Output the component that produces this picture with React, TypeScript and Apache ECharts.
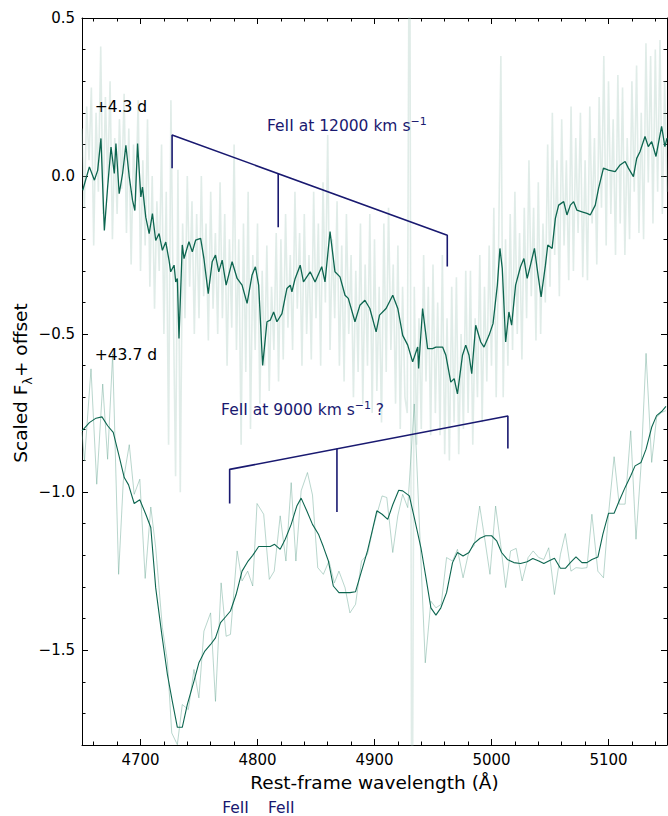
import React, { useEffect, useRef } from 'react';
import * as echarts from 'echarts';

const FONT = 'DejaVu Sans';
const NAVY = '#191970';
const DARK = '#0d6650';

// x / y ticks
const xMajor = [4700, 4800, 4900, 5000, 5100];
const xMinor = [4660, 4680, 4720, 4740, 4760, 4780, 4820, 4840, 4860, 4880, 4920, 4940, 4960, 4980, 5020, 5040, 5060, 5080, 5120, 5140];
const yMajor = [-1.5, -1.0, -0.5, 0.0, 0.5];
const yMinor = [-1.7, -1.6, -1.4, -1.3, -1.2, -1.1, -0.9, -0.8, -0.7, -0.6, -0.4, -0.3, -0.2, -0.1, 0.1, 0.2, 0.3, 0.4];

// +4.3 d raw spectrum: wavelength grid start/step, fluxes
const s1RawStart = 4650;
const s1RawStep = 2;
const s1RawFlux = [
  0.15, -0.10, 0.22, 0.05, 0.28,
  -0.22, 0.20, -0.05, 0.41, -0.12,
  0.25, -0.02, 0.30, -0.20, 0.12,
  -0.12, 0.18, -0.04, 0.26, -0.18,
  0.15, -0.28, 0.10, -0.08, 0.24,
  -0.30, 0.05, -0.22, 0.18, -0.35,
  0.00, -0.42, -0.08, -0.30, 0.10,
  -0.50, -0.05, -0.85, 0.24, -0.40,
  -0.95, 0.02, -1.00, -0.15, -0.45,
  0.00, -0.35, -0.08, -0.50, -0.12,
  -0.45, 0.00, -0.38, -0.15, -0.52,
  -0.05, -0.42, -0.18, -0.50, -0.02,
  -0.45, -0.12, -0.60, -0.20, -0.48,
  0.10, -0.55, -0.20, -0.85, -0.15,
  -0.62, -0.05, -0.80, -0.25, -0.55,
  -0.15, -0.72, -0.30, -0.60, -0.22,
  -0.68, -0.35, -0.55, -0.18, -0.65,
  -0.20, -0.58, -0.12, -0.48, -0.25,
  -0.55, -0.05, -0.42, -0.18, -0.60,
  -0.12, -0.50, -0.25, -0.58, -0.05,
  -0.45, -0.15, -0.60, -0.02, -0.40,
  0.13, -0.55, -0.20, -0.45, -0.08,
  -0.60, -0.22, -0.65, -0.12, -0.50,
  -0.25, -0.70, -0.30, -0.62, -0.15,
  -0.72, -0.28, -0.60, -0.12, -0.75,
  -0.20, -0.68, -0.35, -0.78, -0.15,
  -0.62, -0.10, -0.55, -0.28, -0.72,
  -0.22, -0.80, -0.35, -0.70, -0.75,
  1.20, -2.50, -0.35, -0.85, -0.45,
  -0.80, -0.25, -0.65, -0.35, -0.82,
  -0.28, -0.75, -0.40, -0.82, -0.25,
  -0.88, -0.45, -0.90, -0.35, -0.78,
  -0.32, -0.88, -0.50, -0.80, -0.30,
  -0.75, -0.30, -0.85, -0.45, -0.70,
  -0.25, -0.78, -0.35, -0.65, -0.22,
  -0.60, -0.10, -0.70, -0.25, 0.38,
  -0.70, -0.20, -0.60, -0.12, -0.55,
  -0.05, -0.50, -0.18, -0.58, -0.10,
  -0.45, 0.05, -0.38, -0.10, -0.52,
  -0.02, -0.50, -0.15, -0.40, 0.10,
  -0.35, 0.20, -0.25, 0.05, -0.38,
  0.18, -0.22, 0.05, -0.33, 0.22,
  -0.30, 0.12, -0.18, 0.20, -0.32,
  0.05, -0.33, 0.22, -0.15, 0.12,
  -0.28, 0.25, -0.10, 0.38, -0.22,
  0.30, -0.12, 0.18, -0.25, 0.32,
  -0.15, 0.28, -0.25, 0.12, -0.20,
  0.30, -0.05, 0.35, -0.18, 0.20,
  -0.20, 0.42, -0.02, 0.38, -0.15,
  0.40, -0.05, 0.43, -0.12, 0.30,
  -0.05,
];

// +4.3 d smoothed spectrum
const s1SmoothWave = [4650.6, 4656.3, 4660.6, 4663.4, 4666.2, 4669.1, 4671.9, 4674.8, 4677.6, 4679.0,
  4681.8, 4684.7, 4687.5, 4690.4, 4693.2, 4695.2, 4697.5, 4700.3, 4701.7, 4704.5,
  4707.4, 4710.2, 4713.0, 4715.9, 4718.7, 4721.6, 4724.4, 4725.8, 4728.7, 4730.1,
  4731.5, 4732.9, 4735.7, 4737.2, 4741.4, 4744.3, 4747.1, 4751.4, 4754.2, 4757.9,
  4761.3, 4764.1, 4766.9, 4769.8, 4773.2, 4778.3, 4782.6, 4786.8, 4791.1, 4795.3,
  4798.2, 4801.0, 4804.4, 4808.1, 4810.9, 4813.8, 4816.6, 4820.9, 4825.1, 4828.0,
  4829.4, 4832.2, 4836.5, 4839.3, 4845.0, 4849.2, 4854.9, 4857.7, 4862.0, 4866.2,
  4870.5, 4874.8, 4877.6, 4883.3, 4887.5, 4891.8, 4896.0, 4901.4, 4904.3, 4909.9,
  4915.6, 4919.9, 4924.1, 4928.4, 4932.6, 4936.9, 4937.7, 4941.1, 4945.4, 4949.6,
  4952.5, 4958.2, 4961.0, 4965.2, 4968.1, 4970.9, 4975.2, 4978.0, 4980.8, 4983.1,
  4986.5, 4990.8, 4993.6, 4997.9, 5001.3, 5005.0, 5007.2, 5009.2, 5012.1, 5014.9,
  5017.2, 5020.6, 5024.8, 5027.7, 5030.5, 5031.9, 5036.7, 5039.0, 5042.4, 5046.1,
  5048.1, 5051.8, 5054.6, 5057.4, 5061.7, 5064.5, 5067.4, 5070.2, 5073.0, 5077.3,
  5081.6, 5084.4, 5088.7, 5091.5, 5095.7, 5100.0, 5105.7, 5109.9, 5114.2, 5117.0,
  5121.3, 5124.1, 5126.9, 5131.2, 5134.0, 5136.9, 5140.6, 5145.4, 5148.2, 5150];
const s1SmoothFlux = [-0.045, 0.029, -0.013, 0.018, 0.119, -0.172, -0.035, 0.092, 0.008, 0.103,
  -0.056, 0.008, 0.097, -0.003, -0.077, -0.109, 0.103, -0.066, -0.035, -0.130,
  -0.182, -0.119, -0.204, -0.182, -0.235, -0.209, -0.267, -0.303, -0.282, -0.335,
  -0.324, -0.514, -0.218, -0.261, -0.208, -0.240, -0.203, -0.197, -0.261, -0.372,
  -0.271, -0.250, -0.303, -0.266, -0.345, -0.271, -0.324, -0.345, -0.403, -0.314,
  -0.287, -0.345, -0.599, -0.461, -0.456, -0.430, -0.461, -0.435, -0.356, -0.345,
  -0.366, -0.324, -0.282, -0.335, -0.303, -0.335, -0.287, -0.335, -0.176, -0.303,
  -0.319, -0.377, -0.387, -0.461, -0.409, -0.393, -0.419, -0.493, -0.440, -0.419,
  -0.377, -0.419, -0.504, -0.535, -0.588, -0.541, -0.609, -0.419, -0.546, -0.546,
  -0.541, -0.541, -0.567, -0.652, -0.641, -0.689, -0.567, -0.535, -0.567, -0.625,
  -0.472, -0.525, -0.541, -0.504, -0.467, -0.345, -0.229, -0.292, -0.525, -0.430,
  -0.472, -0.345, -0.287, -0.261, -0.324, -0.303, -0.229, -0.292, -0.382, -0.282,
  -0.218, -0.229, -0.134, -0.092, -0.081, -0.123, -0.092, -0.081, -0.108, -0.113,
  -0.118, -0.123, -0.092, -0.039, 0.025, 0.019, 0.014, 0.035, 0.046, 0.025,
  -0.002, 0.056, 0.077, 0.125, 0.093, 0.109, 0.062, 0.157, 0.093, 0.12];

// +43.7 d raw spectrum [wavelength, flux]
const s2Raw = [
  [4650, -0.81], [4652.1, -0.901], [4657.7, -0.610], [4662.6, -0.975], [4667.7, -0.658],
  [4671.9, -0.896], [4676.2, -0.563], [4681.3, -1.260], [4685.3, -0.964], [4690.4, -0.850],
  [4694.6, -1.007], [4699.4, -0.959], [4704.0, -1.273], [4708.8, -1.047], [4713.0, -1.176],
  [4718.7, -1.429], [4723.0, -1.535], [4726.7, -1.762], [4731.5, -1.799], [4735.7, -1.672],
  [4740.9, -1.688], [4745.7, -1.561], [4749.9, -1.651], [4754.2, -1.440], [4759.9, -1.382],
  [4764.1, -1.662], [4768.9, -1.287], [4773.2, -1.456], [4776.9, -1.450], [4782.6, -1.186],
  [4786.8, -1.281], [4791.6, -1.250], [4795.9, -1.297], [4799.6, -1.036], [4805.3, -1.070],
  [4810.1, -1.276], [4814.3, -1.250], [4819.4, -1.075], [4824.3, -1.218], [4828.8, -0.970],
  [4832.8, -1.218], [4837.3, -0.996], [4842.7, -0.938], [4847.0, -1.009], [4851.5, -1.239],
  [4856.3, -1.260], [4861.1, -1.218], [4865.7, -1.287], [4869.6, -1.250], [4874.8, -1.302],
  [4879.0, -1.382], [4883.8, -1.355], [4888.9, -1.218], [4894.0, -1.197], [4898.9, -1.112],
  [4902.0, -1.070], [4906.5, -1.012], [4910.5, -1.017], [4915.6, -1.191], [4919.9, -1.075],
  [4924.1, -1.007], [4928.4, -1.049], [4934.0, -0.721], [4943.4, -1.540], [4948.2, -1.345],
  [4952.5, -1.366], [4957.0, -1.355], [4961.6, -1.207], [4966.7, -1.218], [4970.9, -1.181],
  [4975.7, -1.271], [4980.8, -1.186], [4985.1, -1.170], [4989.9, -1.044], [4994.5, -1.155],
  [4998.7, -1.260], [5003.5, -1.044], [5007.8, -1.165], [5012.1, -1.302], [5016.3, -1.186],
  [5021.1, -1.178], [5026.2, -1.281], [5031.3, -1.207], [5035.6, -1.186], [5040.4, -1.207],
  [5044.7, -1.213], [5048.9, -1.176], [5053.8, -1.324], [5058.9, -1.197], [5063.1, -1.131],
  [5067.9, -1.250], [5072.2, -1.239], [5077.3, -1.241], [5081.6, -1.239], [5085.8, -1.070],
  [5090.9, -1.250], [5095.7, -1.271], [5100.0, -1.070], [5104.8, -0.888], [5109.1, -1.038],
  [5114.2, -1.038], [5119.0, -0.806], [5123.5, -1.149], [5127.8, -0.917], [5132.1, -0.561],
  [5136.9, -0.906], [5141.1, -0.764], [5145.4, -0.748], [5149.1, -0.742],
];

// +43.7 d smoothed spectrum [wavelength, flux]
const s2Smooth = [
  [4650, -0.806], [4656.3, -0.780], [4662.0, -0.766], [4667.1, -0.762], [4671.9, -0.790],
  [4676.7, -0.811], [4681.3, -0.880], [4686.1, -0.954], [4689.8, -0.977], [4694.6, -1.036],
  [4699.4, -1.024], [4704.5, -1.070], [4708.8, -1.112], [4713.0, -1.303], [4718.2, -1.450],
  [4723.0, -1.577], [4727.2, -1.662], [4731.5, -1.744], [4735.7, -1.744], [4740.0, -1.672],
  [4745.7, -1.598], [4749.9, -1.540], [4755.0, -1.503], [4759.9, -1.482], [4764.1, -1.461],
  [4768.4, -1.413], [4772.6, -1.395], [4776.9, -1.376], [4781.7, -1.324], [4786.8, -1.250],
  [4791.6, -1.220], [4795.9, -1.200], [4801.0, -1.172], [4806.1, -1.172], [4810.9, -1.172],
  [4814.6, -1.165], [4819.4, -1.181], [4823.7, -1.149], [4828.8, -1.102], [4833.6, -1.044],
  [4837.3, -1.019], [4842.1, -1.059], [4847.0, -1.102], [4852.1, -1.133], [4856.3, -1.173],
  [4860.6, -1.218], [4864.8, -1.297], [4869.6, -1.318], [4874.8, -1.318], [4879.0, -1.318],
  [4883.8, -1.315], [4888.9, -1.250], [4894.0, -1.186], [4898.0, -1.123], [4902.0, -1.059],
  [4906.5, -1.070], [4911.3, -1.086], [4915.6, -1.040], [4920.7, -0.994], [4924.1, -0.996],
  [4929.8, -1.012], [4934.0, -1.081], [4939.7, -1.176], [4944.0, -1.271], [4948.2, -1.366],
  [4952.5, -1.389], [4956.7, -1.366], [4961.6, -1.318], [4966.7, -1.223], [4970.9, -1.191],
  [4975.7, -1.202], [4980.8, -1.191], [4985.1, -1.162], [4990.2, -1.146], [4995.0, -1.138],
  [5000.1, -1.138], [5004.4, -1.154], [5008.6, -1.191], [5013.5, -1.213], [5019.1, -1.223],
  [5024.8, -1.226], [5030.5, -1.220], [5035.3, -1.210], [5040.4, -1.218], [5044.7, -1.226],
  [5048.9, -1.218], [5053.8, -1.209], [5058.9, -1.241], [5063.1, -1.241], [5067.4, -1.223],
  [5072.2, -1.205], [5077.3, -1.223], [5081.6, -1.223], [5085.8, -1.213], [5091.0, -1.205],
  [5095.2, -1.133], [5100.0, -1.067], [5104.8, -1.067], [5109.1, -1.028], [5114.2, -0.985],
  [5119.0, -0.948], [5122.7, -0.917], [5127.8, -0.906], [5132.1, -0.864], [5136.9, -0.795],
  [5141.1, -0.758], [5145.4, -0.745], [5149.1, -0.729],
];

// Fe II line markers (wavelength, top of tick, bottom of tick)
const fe12Wave = [4727.0, 4817.7, 4962.2];
const fe12Top = [0.13, 0.008, -0.187];
const fe12Bottom = [0.025, -0.162, -0.286];
const fe9Wave = [4776.2, 4867.9, 5014.0];
const fe9Top = [-0.928, -0.863, -0.759];
const fe9Bottom = [-1.036, -1.063, -0.862];

// text annotations (data coordinates of the left edge / vertical middle)
const annotations = [
  { x: 4660.9, y: 0.218, text: '{a|+4.3 d}', color: '#000' },
  { x: 4660.9, y: -0.565, text: '{a|+43.7 d}', color: '#000' },
  { x: 4808.1, y: 0.158, text: '{a|FeII at 12000 km s}{u|\u22121}', color: NAVY },
  { x: 4768.9, y: -0.739, text: '{a|FeII at 9000 km s}{u|\u22121}{a| ?}', color: NAVY },
  { x: 4769.8, y: -1.999, text: '{a|FeII}', color: NAVY },
  { x: 4808.9, y: -1.999, text: '{a|FeII}', color: NAVY },
];

const fmtY = (v: number) => (v < 0 ? '\u2212' : '') + Math.abs(v).toFixed(1);
const fmtX = (v: number) => String(Math.round(v));

function xAx(pos: string, ticks: number[], len: number, major: boolean) {
  return {
    type: 'value', min: 4650, max: 5150, position: pos,
    axisLine: { show: major, onZero: false, lineStyle: { color: '#000', width: 1 } },
    axisTick: { show: true, inside: true, length: len, customValues: ticks, lineStyle: { color: '#000', width: 1 } },
    axisLabel: {
      show: major && pos === 'bottom', customValues: ticks, margin: 7, formatter: fmtX,
      fontFamily: FONT, fontSize: 15, color: '#000',
    },
    splitLine: { show: false },
  };
}
function yAx(pos: string, ticks: number[], len: number, major: boolean) {
  return {
    type: 'value', min: -1.8, max: 0.5, position: pos,
    axisLine: { show: major, onZero: false, lineStyle: { color: '#000', width: 1 } },
    axisTick: { show: true, inside: true, length: len, customValues: ticks, lineStyle: { color: '#000', width: 1 } },
    axisLabel: {
      show: major && pos === 'left', customValues: ticks, margin: 7, formatter: fmtY,
      fontFamily: FONT, fontSize: 15, color: '#000',
    },
    splitLine: { show: false },
  };
}

export default function App() {
  const ref = useRef<HTMLDivElement>(null);
  useEffect(() => {
    const chart = echarts.init(ref.current!, null, { renderer: 'svg' });
    const s1Raw = s1RawFlux.map((f, i) => [s1RawStart + i * s1RawStep, f]);
    const s1Smooth = s1SmoothWave.map((w, i) => [w, s1SmoothFlux[i]]);
    const bracket = (w: number[], t: number[], b: number[]) => [[w[0], b[0]], [w[0], t[0]], [w[2], t[2]], [w[2], b[2]]];
    const midTick = (w: number[], t: number[], b: number[]) => [[w[1], t[1]], [w[1], b[1]]];

    const lineSeries = (data: any[], color: string, width: number, z: number) => ({
      type: 'line', data, xAxisIndex: 0, yAxisIndex: 0, showSymbol: false, symbol: 'none',
      lineStyle: { color, width }, silent: true, z, clip: true,
    });

    const xAxes: any[] = [
      xAx('bottom', xMajor, 6, true),
      xAx('bottom', xMinor, 3.5, false),
      xAx('top', xMajor, 6, true),
      xAx('top', xMinor, 3.5, false),
    ];
    xAxes[0].name = 'Rest-frame wavelength (\u00C5)';
    xAxes[0].nameLocation = 'middle';
    xAxes[0].nameGap = 28;
    xAxes[0].nameTextStyle = { fontFamily: FONT, fontSize: 18.5, color: '#000' };

    chart.setOption({
      animation: false,
      backgroundColor: '#fff',
      grid: { left: 82, top: 18, right: 1, bottom: 71, containLabel: false },
      xAxis: xAxes,
      yAxis: [
        yAx('left', yMajor, 6, true),
        yAx('left', yMinor, 3.5, false),
        yAx('right', yMajor, 6, true),
        yAx('right', yMinor, 3.5, false),
      ],
      series: [
        lineSeries(s1Raw, 'rgba(160,195,185,0.32)', 1.6, 1),
        lineSeries(s2Raw, 'rgba(100,165,145,0.45)', 1, 2),
        lineSeries(s1Smooth, DARK, 1.3, 3),
        lineSeries(s2Smooth, DARK, 1.1, 4),
        lineSeries(bracket(fe12Wave, fe12Top, fe12Bottom), NAVY, 1.6, 5),
        lineSeries(midTick(fe12Wave, fe12Top, fe12Bottom), NAVY, 1.6, 5),
        lineSeries(bracket(fe9Wave, fe9Top, fe9Bottom), NAVY, 1.6, 5),
        lineSeries(midTick(fe9Wave, fe9Top, fe9Bottom), NAVY, 1.6, 5),
      ],
    });

    const graphics: any[] = annotations.map((a) => {
      const p = chart.convertToPixel({ xAxisIndex: 0, yAxisIndex: 0 }, [a.x, a.y]) as number[];
      return {
        type: 'text', x: p[0], y: p[1], z: 10,
        style: {
          text: a.text, fill: a.color,
          align: 'left', verticalAlign: 'middle', textAlign: 'left', textVerticalAlign: 'middle',
          rich: {
            a: { fontFamily: FONT, fontSize: 15.5, fill: a.color, lineHeight: 20, verticalAlign: 'middle' },
            u: { fontFamily: FONT, fontSize: 11, fill: a.color, lineHeight: 20, verticalAlign: 'top' },
          },
        },
      };
    });
    graphics.push({
      type: 'text', x: 20, y: 383, rotation: Math.PI / 2, z: 10,
      style: {
        text: '{a|Scaled F}{s|\u03BB}{a|+ offset}',
        align: 'center', verticalAlign: 'middle', textAlign: 'center', textVerticalAlign: 'middle',
        fill: '#000',
        rich: {
          a: { fontFamily: FONT, fontSize: 18.5, fill: '#000', lineHeight: 28, verticalAlign: 'middle' },
          s: { fontFamily: FONT, fontSize: 13, fill: '#000', lineHeight: 28, verticalAlign: 'bottom' },
        },
      },
    });
    chart.setOption({ graphic: graphics });

    return () => chart.dispose();
  }, []);
  return <div ref={ref} style={{ position: 'fixed', left: 0, top: 0, width: 668, height: 816 }} />;
}
